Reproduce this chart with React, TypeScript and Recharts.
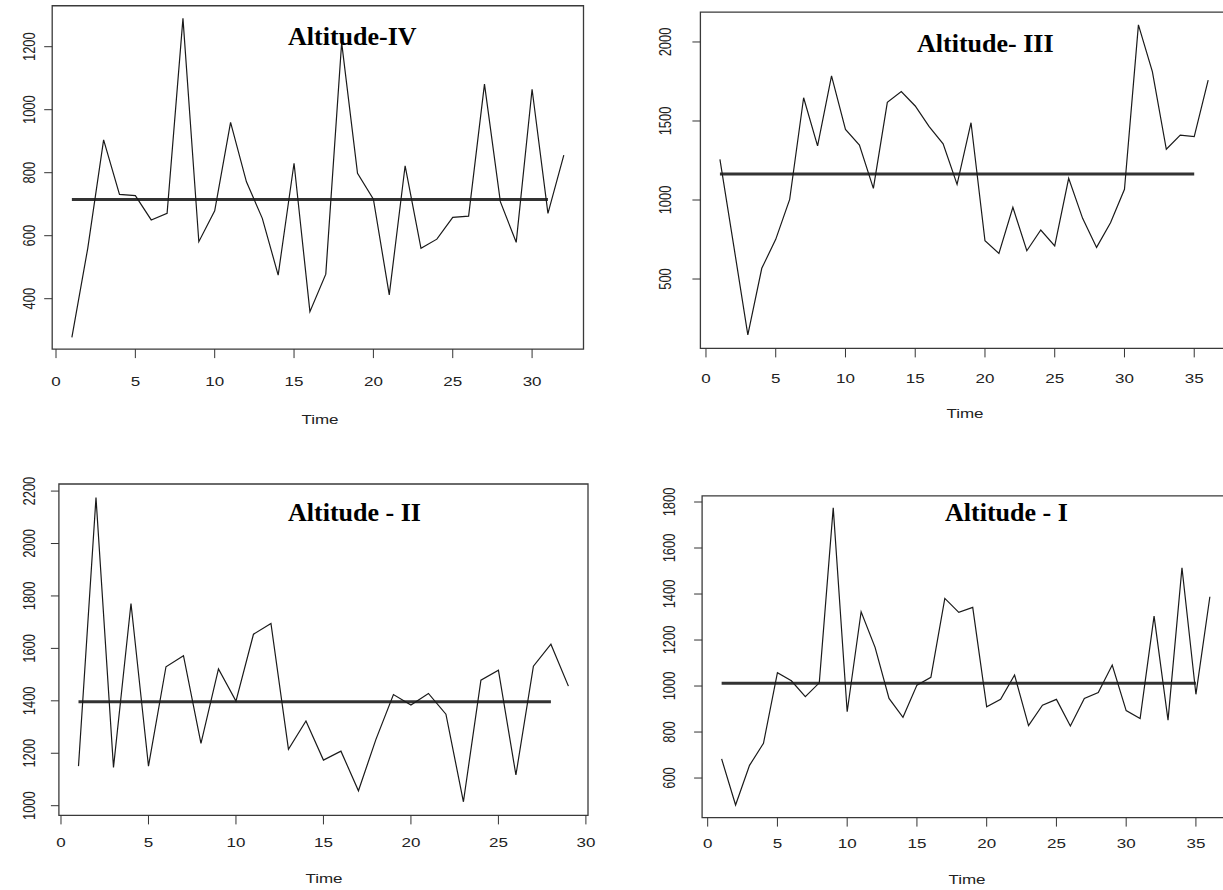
import React from "react";
import { LineChart, Line, XAxis, YAxis, ReferenceLine, ReferenceArea } from "recharts";

// ---- data ----
const alt4Values = [277, 560, 904, 731, 727, 650, 671, 1290, 581, 679, 960, 771, 655, 475, 830, 359, 478, 1213, 798, 716, 412, 822, 560, 589, 658, 662, 1081, 708, 579, 1065, 671, 856];
const alt3Values = [1257, 705, 146, 568, 751, 1004, 1647, 1342, 1785, 1447, 1348, 1074, 1618, 1686, 1595, 1464, 1355, 1099, 1489, 742, 662, 954, 679, 810, 709, 1137, 884, 700, 856, 1068, 2108, 1812, 1321, 1411, 1401, 1759];
const alt2Values = [1151, 2175, 1146, 1771, 1151, 1530, 1572, 1238, 1522, 1399, 1654, 1695, 1215, 1323, 1174, 1208, 1057, 1253, 1424, 1384, 1428, 1349, 1015, 1479, 1517, 1117, 1532, 1616, 1456];
const alt1Values = [683, 483, 655, 751, 1058, 1023, 954, 1014, 1775, 888, 1323, 1168, 946, 864, 1004, 1038, 1381, 1320, 1342, 910, 942, 1048, 828, 917, 942, 826, 946, 972, 1091, 893, 859, 1304, 852, 1514, 964, 1388];

const alt4Mean = 715;
const alt3Mean = 1165;
const alt2Mean = 1396;
const alt1Mean = 1012;

const alt4MeanSpan = [1, 31];
const alt3MeanSpan = [1, 35];
const alt2MeanSpan = [1, 28];
const alt1MeanSpan = [1, 35];

const xTicks30 = [0, 5, 10, 15, 20, 25, 30];
const xTicks35 = [0, 5, 10, 15, 20, 25, 30, 35];
const alt4YTicks = [400, 600, 800, 1000, 1200];
const alt3YTicks = [500, 1000, 1500, 2000];
const alt2YTicks = [1000, 1200, 1400, 1600, 1800, 2000, 2200];
const alt1YTicks = [600, 800, 1000, 1200, 1400, 1600, 1800];

const titles = ["Altitude-IV", "Altitude- III", "Altitude - II", "Altitude - I"];
const xLabel = "Time";

const toRows = (vals: number[]) => vals.map((v, i) => ({ t: i + 1, v }));

const SANS = "'Liberation Sans', Arial, sans-serif";
const SERIF = "'Liberation Serif', 'Times New Roman', serif";
const YW = 40;
const XH = 40;
const SQ = 0.76;

type PanelProps = {
  rows: { t: number; v: number }[];
  mean: number;
  span: number[];
  xDomain: number[];
  yDomain: number[];
  xTicks: number[];
  yTicks: number[];
  chart: { left: number; top: number; width: number; height: number };
  box: { l: number; r: number; t: number; b: number };
  xLabOff: number;
  yGap: number;
};

const Panel = ({ rows, mean, span, xDomain, yDomain, xTicks, yTicks, chart, box, xLabOff, yGap }: PanelProps) => {
  const margin = {
    top: box.t - chart.top,
    left: box.l - chart.left - YW,
    right: chart.left + chart.width - box.r,
    bottom: chart.top + chart.height - box.b - XH,
  };
  const XTick = (p: any) => (
    <text
      transform={`translate(${p.x},${p.y - 9 + xLabOff}) scale(1,${SQ})`}
      textAnchor="middle"
      dominantBaseline="central"
      fontSize={17}
      fill="#222"
      fontFamily={SANS}
    >
      {p.payload.value}
    </text>
  );
  const YTick = (p: any) => (
    <text
      transform={`translate(${p.x + 8 - yGap},${p.y}) scale(1,${SQ}) rotate(-90)`}
      textAnchor="middle"
      fontSize={17}
      fill="#222"
      fontFamily={SANS}
    >
      {p.payload.value}
    </text>
  );
  return (
    <div style={{ position: "absolute", left: chart.left, top: chart.top }}>
      <LineChart width={chart.width} height={chart.height} data={rows} margin={margin}>
        <XAxis
          dataKey="t"
          type="number"
          domain={xDomain}
          ticks={xTicks}
          interval={0}
          allowDataOverflow
          height={XH}
          axisLine={false}
          tickSize={9}
          tickMargin={0}
          tickLine={{ stroke: "#333", strokeWidth: 1 }}
          tick={XTick}
        />
        <YAxis
          type="number"
          domain={yDomain}
          ticks={yTicks}
          interval={0}
          allowDataOverflow
          width={YW}
          axisLine={false}
          tickSize={8}
          tickMargin={0}
          tickLine={{ stroke: "#333", strokeWidth: 1 }}
          tick={YTick}
        />
        <ReferenceArea
          x1={xDomain[0]}
          x2={xDomain[1]}
          y1={yDomain[0]}
          y2={yDomain[1]}
          fill="none"
          fillOpacity={0}
          stroke="#3a3a3a"
          strokeWidth={1.3}
          ifOverflow="visible"
        />
        <ReferenceLine
          segment={[
            { x: span[0], y: mean },
            { x: span[1], y: mean },
          ]}
          stroke="#333"
          strokeWidth={3}
          ifOverflow="visible"
        />
        <Line
          type="linear"
          dataKey="v"
          stroke="#1a1a1a"
          strokeWidth={1.2}
          dot={false}
          activeDot={false}
          isAnimationActive={false}
        />
      </LineChart>
    </div>
  );
};

export default function App() {
  return (
    <div
      style={{
        position: "fixed",
        left: 0,
        top: 0,
        width: 1223,
        height: 890,
        overflow: "hidden",
        background: "#fff",
      }}
    >
      <Panel
        rows={toRows(alt4Values)}
        mean={alt4Mean}
        span={alt4MeanSpan}
        xDomain={[-0.24, 33.24]}
        yDomain={[240, 1330]}
        xTicks={xTicks30}
        yTicks={alt4YTicks}
        chart={{ left: 0, top: 0, width: 620, height: 440 }}
        box={{ l: 52.2, r: 583.5, t: 5.75, b: 349.1 }}
        xLabOff={32}
        yGap={17}
      />
      <Panel
        rows={toRows(alt3Values)}
        mean={alt3Mean}
        span={alt3MeanSpan}
        xDomain={[-0.4, 37.4]}
        yDomain={[61, 2189]}
        xTicks={xTicks35}
        yTicks={alt3YTicks}
        chart={{ left: 620, top: 0, width: 620, height: 440 }}
        box={{ l: 700.4, r: 1227.7, t: 12.1, b: 348.4 }}
        xLabOff={30}
        yGap={29}
      />
      <Panel
        rows={toRows(alt2Values)}
        mean={alt2Mean}
        span={alt2MeanSpan}
        xDomain={[-0.12, 30.12]}
        yDomain={[963, 2227]}
        xTicks={xTicks30}
        yTicks={alt2YTicks}
        chart={{ left: 0, top: 440, width: 620, height: 450 }}
        box={{ l: 58.9, r: 588, t: 484, b: 815.4 }}
        xLabOff={27}
        yGap={24}
      />
      <Panel
        rows={toRows(alt1Values)}
        mean={alt1Mean}
        span={alt1MeanSpan}
        xDomain={[-0.4, 37.4]}
        yDomain={[428, 1827]}
        xTicks={xTicks35}
        yTicks={alt1YTicks}
        chart={{ left: 620, top: 440, width: 620, height: 450 }}
        box={{ l: 702.1, r: 1229.4, t: 495.8, b: 817.6 }}
        xLabOff={26}
        yGap={27}
      />
      <svg
        width={1223}
        height={890}
        style={{ position: "absolute", left: 0, top: 0, pointerEvents: "none" }}
      >
        <g fontFamily={SERIF} fontWeight="bold" fontSize={26} fill="#000">
          <text x={288} y={45}>{titles[0]}</text>
          <text x={917} y={52}>{titles[1]}</text>
          <text x={288} y={521}>{titles[2]}</text>
          <text x={945} y={521}>{titles[3]}</text>
        </g>
        <g fontFamily={SANS} fontSize={17} fill="#222" textAnchor="middle" dominantBaseline="central">
          <text transform={`translate(320,419) scale(1,${SQ})`}>{xLabel}</text>
          <text transform={`translate(965,413) scale(1,${SQ})`}>{xLabel}</text>
          <text transform={`translate(324,878) scale(1,${SQ})`}>{xLabel}</text>
          <text transform={`translate(967,879) scale(1,${SQ})`}>{xLabel}</text>
        </g>
      </svg>
    </div>
  );
}
